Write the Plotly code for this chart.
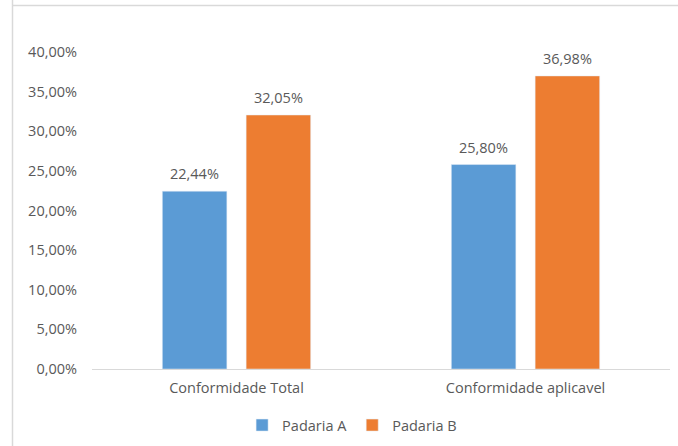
import plotly.graph_objects as go

categories = ["Conformidade Total", "Conformidade aplicavel"]
padaria_a = [22.44, 25.80]
padaria_b = [32.05, 36.98]
tick_vals = [0, 5, 10, 15, 20, 25, 30, 35, 40]
tick_text = [f"{v:.2f}".replace(".", ",") + "%" for v in tick_vals]

W, H = 678, 446
L, R, T, B = 92, 8, 52, 77
font = "Open Sans"
fs = 14.5
txt = "#595959"
bargap, bargroupgap = 0.42, 0.23

pw = W - L - R
ph = H - T - B
cat_w = pw / len(categories)
slot = cat_w * (1 - bargap) / 2

fig = go.Figure()
fig.add_bar(name="Padaria A", x=categories, y=padaria_a, marker_color="#5B9BD5")
fig.add_bar(name="Padaria B", x=categories, y=padaria_b, marker_color="#ED7D31")

annotations = []
for series, sign in ((padaria_a, -1), (padaria_b, 1)):
    for c, v in zip(categories, series):
        annotations.append(dict(
            x=c, y=v, xref="x", yref="y", text=f"{v:.2f}".replace(".", ",") + "%",
            showarrow=False, xshift=sign * slot / 2, yanchor="bottom", yshift=6,
            font=dict(family=font, size=fs, color=txt)))

fig.update_layout(
    width=W, height=H,
    margin=dict(l=L, r=R, t=T, b=B, autoexpand=False),
    paper_bgcolor="white", plot_bgcolor="white",
    barmode="group", bargap=bargap, bargroupgap=bargroupgap,
    font=dict(family=font, size=fs, color=txt),
    showlegend=True,
    legend=dict(orientation="h", x=0.45, xanchor="center", y=-0.177, yanchor="middle",
                font=dict(family=font, size=fs, color=txt), itemwidth=30,
                traceorder="normal"),
    annotations=annotations,
    shapes=[
        dict(type="line", xref="paper", yref="paper",
             x0=(12.5 - L) / pw, x1=(12.5 - L) / pw,
             y0=(H - T - 6) / ph, y1=-(B + 5) / ph,
             line=dict(color="#D9D9D9", width=1.5)),
        dict(type="line", xref="paper", yref="paper",
             x0=(12.5 - L) / pw, x1=(W + 5 - L) / pw,
             y0=(H - 5.5 - B) / ph, y1=(H - 5.5 - B) / ph,
             line=dict(color="#D9D9D9", width=1.5)),
    ],
)
fig.update_yaxes(range=[0, 40], tickvals=tick_vals, ticktext=tick_text,
                 showgrid=False, zeroline=False, showline=False,
                 ticklabelstandoff=14,
                 tickfont=dict(family=font, size=fs, color=txt))
fig.update_xaxes(showline=True, linecolor="#D9D9D9", linewidth=1, showgrid=False,
                 ticks="", ticklabelstandoff=6,
                 tickfont=dict(family=font, size=fs, color=txt))

fig.write_html("out.html")
